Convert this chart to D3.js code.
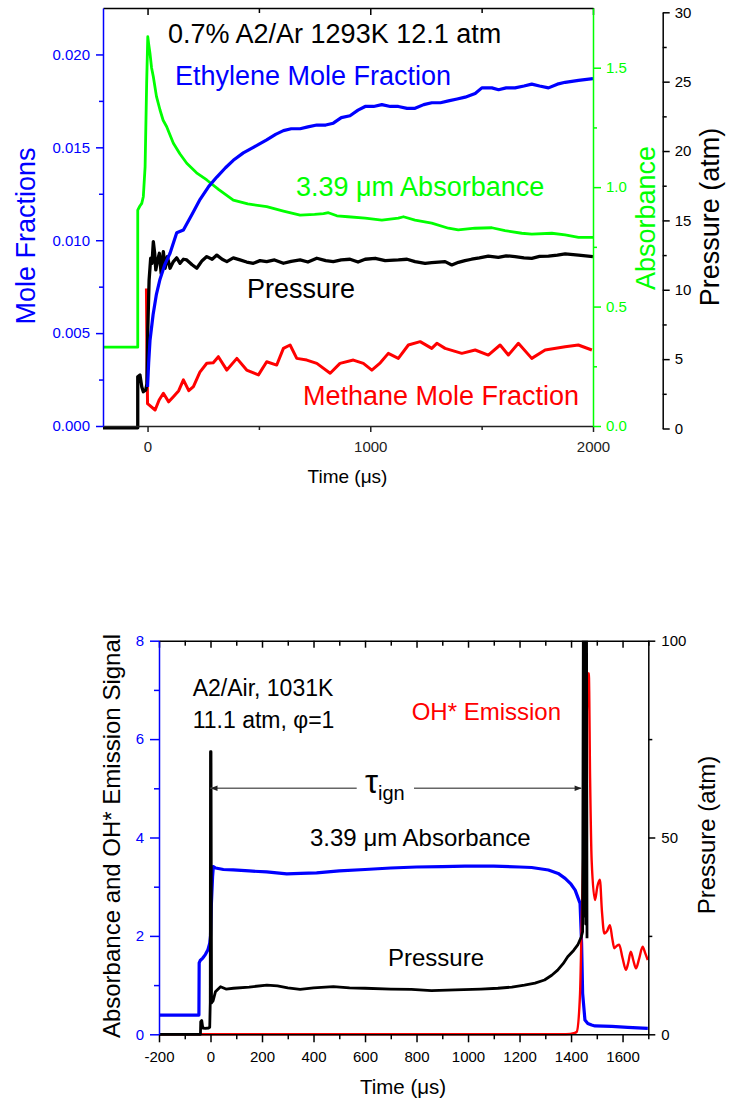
<!DOCTYPE html>
<html>
<head>
<meta charset="utf-8">
<script src="https://cdn.jsdelivr.net/npm/d3@7"></script>
<style>
  body { margin: 0; background: #fff; }
  text { font-family: 'Liberation Sans', Arial, sans-serif; }
</style>
</head>
<body>
<div id="chart"></div>
<script>
// ---- top panel: 0.7% A2/Ar 1293K 12.1 atm ----
const topTimeTicks = [0, 1000, 2000];
const topTimeMinor = [500, 1500];
const moleTicks = [0, 0.005, 0.010, 0.015, 0.020];
const moleMinor = [0.0025, 0.0075, 0.0125, 0.0175];
const absTicks = [0, 0.5, 1.0, 1.5];
const absMinor = [0.25, 0.75, 1.25];
const pressTicks = [0, 5, 10, 15, 20, 25, 30];
const pressMinor = [2.5, 7.5, 12.5, 17.5, 22.5, 27.5];

// [time us, mole fraction]
const topEthylene = [
  [0, 0.0021], [5, 0.0034], [11, 0.0046], [25, 0.0060], [40, 0.0071], [56, 0.0079], [78, 0.0087],
  [101, 0.0093], [131, 0.0104], [161, 0.01055], [200, 0.0114], [236, 0.0122], [275, 0.0129],
  [311, 0.0134], [350, 0.0139], [385, 0.0143], [430, 0.0147], [475, 0.0150], [505, 0.0152],
  [535, 0.0154], [575, 0.0157], [610, 0.0159], [645, 0.0160], [685, 0.0160], [720, 0.0161],
  [760, 0.0162], [800, 0.0162], [834, 0.0163], [870, 0.0166], [909, 0.0167], [945, 0.0170],
  [977, 0.0172], [1015, 0.0172], [1052, 0.0173], [1090, 0.0172], [1126, 0.0172], [1165, 0.0171],
  [1201, 0.0171], [1240, 0.0173], [1276, 0.0174], [1315, 0.0174], [1351, 0.0175], [1390, 0.0176],
  [1426, 0.0177], [1471, 0.0179], [1501, 0.0182], [1546, 0.0182], [1576, 0.0181], [1610, 0.0182],
  [1650, 0.0182], [1690, 0.0183], [1725, 0.0184], [1760, 0.0183], [1800, 0.0182], [1840, 0.0184],
  [1875, 0.0185], [1935, 0.0186], [2000, 0.0187]
];
// [time us, absorbance]
const topAbsorbance = [
  [-200, 0.33], [-44, 0.33], [-44, 0.904], [-35, 0.92], [-26, 0.932], [-19, 0.96], [-11, 1.085],
  [-4, 1.435], [1, 1.63], [5, 1.60], [11, 1.56], [18, 1.50], [26, 1.462], [40, 1.38], [56, 1.323],
  [70, 1.28], [86, 1.253], [100, 1.22], [116, 1.184], [145, 1.14], [176, 1.10], [220, 1.06],
  [266, 1.03], [320, 0.99], [385, 0.946], [450, 0.93], [535, 0.918], [610, 0.90], [685, 0.883],
  [750, 0.886], [790, 0.889], [812, 0.893], [850, 0.880], [900, 0.876], [977, 0.87], [1052, 0.862],
  [1126, 0.87], [1149, 0.876], [1201, 0.862], [1276, 0.849], [1351, 0.828], [1395, 0.821],
  [1470, 0.828], [1546, 0.83], [1605, 0.818], [1680, 0.807], [1725, 0.803], [1815, 0.807],
  [1875, 0.80], [1935, 0.79], [2000, 0.79]
];
// [time us, pressure atm]
const topPressure = [
  [-200, 0.05], [-44, 0.05], [-44, 3.73], [-34, 3.86], [-26, 3.01], [-19, 2.65], [-8, 2.78],
  [-3, 3.2], [1, 7.1], [7, 10.7], [14, 12.27], [20, 11.9], [26, 13.47], [32, 12.63], [37, 11.43],
  [44, 12.03], [53, 12.63], [61, 11.19], [71, 12.75], [79, 11.55], [89, 12.39], [101, 11.55],
  [116, 12.03], [131, 12.3], [146, 11.91], [161, 12.2], [176, 12.15], [200, 11.8], [221, 11.55],
  [245, 12.1], [266, 12.39], [290, 12.2], [311, 12.5], [335, 12.2], [356, 12.03], [385, 12.3],
  [415, 12.15], [445, 12.0], [475, 11.91], [505, 12.1], [535, 12.03], [570, 12.15], [610, 11.91],
  [645, 12.05], [685, 12.15], [720, 12.0], [760, 12.27], [800, 12.1], [834, 12.03], [870, 12.15],
  [909, 12.2], [945, 12.0], [977, 12.2], [1022, 12.27], [1067, 12.1], [1126, 12.15], [1165, 12.2],
  [1201, 12.03], [1246, 11.9], [1276, 11.95], [1336, 12.03], [1366, 11.79], [1396, 11.98],
  [1425, 12.1], [1455, 12.2], [1490, 12.3], [1530, 12.43], [1575, 12.34], [1610, 12.45],
  [1650, 12.39], [1690, 12.3], [1725, 12.27], [1760, 12.4], [1800, 12.43], [1840, 12.5],
  [1875, 12.58], [1935, 12.5], [2000, 12.39]
];
// [time us, mole fraction]
const topMethane = [
  [-5, 0.0074], [-3, 0.0045], [0, 0.0012], [34, 0.00086], [52, 0.0014], [71, 0.00176], [95, 0.0013],
  [116, 0.00158], [140, 0.0019], [161, 0.00248], [185, 0.0019], [206, 0.00212], [235, 0.0029],
  [266, 0.00338], [295, 0.0034], [318, 0.00373], [356, 0.00301], [401, 0.00364], [445, 0.00301],
  [498, 0.00275], [535, 0.00346], [580, 0.00328], [610, 0.00418], [640, 0.00436], [670, 0.00364],
  [715, 0.00355], [760, 0.00337], [820, 0.00284], [864, 0.00337], [924, 0.00355], [969, 0.00337],
  [1007, 0.00301], [1045, 0.0034], [1081, 0.00391], [1126, 0.00364], [1171, 0.00436],
  [1224, 0.00454], [1276, 0.00418], [1299, 0.00445], [1336, 0.00418], [1411, 0.00391],
  [1471, 0.00409], [1530, 0.00382], [1583, 0.00436], [1620, 0.00382], [1665, 0.00445],
  [1725, 0.00364], [1785, 0.00409], [1875, 0.00427], [1934, 0.00436], [1995, 0.00409]
];

// ---- bottom panel: A2/Air, 1031K, 11.1 atm ----
const botTimeTicks = [-200, 0, 200, 400, 600, 800, 1000, 1200, 1400, 1600];
const botTimeMinor = [-100, 100, 300, 500, 700, 900, 1100, 1300, 1500, 1700];
const signalTicks = [0, 2, 4, 6, 8];
const signalMinor = [1, 3, 5, 7];
const botPressTicks = [0, 50, 100];
const botPressMinor = [25, 75];
const ignitionMarks = [0, 1445];   // tau_ign start / end, us
const ignitionArrowLevel = 5;      // signal units

// [time us, absorbance]
const botAbsorbance = [
  [-200, 0.39], [-45, 0.39], [-44, 1.45], [-40, 1.50], [-30, 1.55], [-20, 1.62], [-10, 1.72],
  [-3, 1.85], [0, 2.0], [3, 2.6], [8, 3.2], [11, 3.41], [20, 3.38], [50, 3.35], [88, 3.34],
  [150, 3.32], [218, 3.30], [296, 3.26], [350, 3.27], [412, 3.28], [500, 3.32], [600, 3.35],
  [700, 3.38], [800, 3.40], [900, 3.41], [988, 3.42], [1100, 3.42], [1200, 3.40], [1247, 3.39],
  [1312, 3.34], [1350, 3.27], [1377, 3.17], [1400, 3.05], [1416, 2.93], [1435, 2.66],
  [1441, 1.85], [1445, 0.83], [1454, 0.29], [1465, 0.22], [1480, 0.19], [1493, 0.17],
  [1558, 0.16], [1620, 0.14], [1698, 0.12]
];
// [time us, pressure atm]
const botPressure = [
  [-200, 0], [-39, 0], [-38, 3.2], [-34, 3.5], [-30, 1.6], [-20, 1.5], [-8, 1.6], [-3, 1.8],
  [-1, 8], [0, 71.8], [2, 71.8], [4, 8], [10, 8.5], [19, 10.8], [39, 12.1], [60, 11.5], [89, 11.7],
  [150, 12.0], [219, 12.5], [260, 12.3], [300, 11.8], [348, 11.4], [400, 11.8], [477, 12.1],
  [540, 11.8], [600, 11.7], [700, 11.5], [780, 11.4], [858, 11.1], [950, 11.3], [1050, 11.5],
  [1116, 11.7], [1170, 12.0], [1219, 12.5], [1260, 13.0], [1297, 13.8], [1325, 15.0],
  [1348, 16.3], [1370, 18.0], [1387, 19.7], [1410, 21.3], [1426, 22.7], [1440, 24.8],
  [1445, 26.1], [1448, 110], [1451, 30], [1454, 110], [1457, 28], [1460, 110], [1462, 24.4]
];
// [time us, OH* emission signal]
const botOH = [
  [-200, 0], [1380, 0], [1415, 0.03], [1422, 0.05], [1435, 0.83], [1441, 2.19], [1447, 3.54],
  [1458, 6.0], [1466, 7.2], [1469, 7.34], [1474, 5.2], [1480, 3.54], [1493, 2.73], [1502, 3.0],
  [1512, 3.14], [1520, 2.5], [1529, 2.05], [1540, 2.1], [1551, 2.22], [1560, 1.95], [1568, 1.75],
  [1578, 1.8], [1587, 1.82], [1600, 1.55], [1613, 1.31], [1622, 1.45], [1632, 1.68], [1642, 1.5],
  [1652, 1.34], [1665, 1.55], [1678, 1.78], [1688, 1.65], [1698, 1.51]
];

(function () {
  let width = 730,
    height = 1104;

  let font = "'Liberation Sans', Arial, sans-serif";
  let blue = '#0000ff', green = '#00ff00', red = '#ff0000', black = '#000000';

  let svg = d3.select('#chart').append('svg')
    .attr('width', width)
    .attr('height', height);

  svg.append('rect').attr('width', width).attr('height', height).attr('fill', '#fff');

  // draws an axis with major (labelled) and minor ticks
  function axis(g, kind, scale, major, minor, majLen, minLen, pad, color, fmt) {
    let maj = kind(scale).tickValues(major).tickSize(majLen).tickSizeOuter(0).tickPadding(pad);
    if (fmt) maj.tickFormat(fmt); else maj.tickFormat('');
    g.call(maj);
    let m = g.append('g').call(kind(scale).tickValues(minor).tickSize(minLen).tickSizeOuter(0).tickFormat(''));
    m.select('.domain').remove();
    g.attr('font-family', font).attr('font-size', 15);
    g.selectAll('.domain').attr('stroke', color).attr('stroke-width', 1.5);
    g.selectAll('.tick line').attr('stroke', color).attr('stroke-width', 1.5);
    g.selectAll('.tick text').attr('fill', color);
    return g;
  }

  function vlabel(x, y, txt, color, size) {
    svg.append('text')
      .attr('transform', 'translate(' + x + ',' + y + ') rotate(-90)')
      .attr('text-anchor', 'middle')
      .attr('fill', color)
      .style('font-size', size + 'px')
      .text(txt);
  }

  function label(x, y, txt, color, size) {
    return svg.append('text')
      .attr('x', x).attr('y', y)
      .attr('fill', color)
      .style('font-size', size + 'px')
      .text(txt);
  }

  // ================= top panel =================
  let T = { left: 103, right: 593, top: 8, bottom: 426 };

  let xTop = d3.scaleLinear().domain([-200, 2000]).range([T.left, T.right]);
  let yMole = d3.scaleLinear().domain([0, 0.0225]).range([T.bottom, T.top]);
  let yAbs = d3.scaleLinear().domain([0, 1.75]).range([T.bottom, T.top]);
  let yPress = d3.scaleLinear().domain([0, 30]).range([428.5, 12.3]);

  svg.append('clipPath').attr('id', 'clipTop').append('rect')
    .attr('x', T.left).attr('y', T.top).attr('width', T.right - T.left).attr('height', T.bottom - T.top + 4);

  let topSeries = svg.append('g').attr('clip-path', 'url(#clipTop)');

  let lineAbs = d3.line().x((d) => xTop(d[0])).y((d) => yAbs(d[1]));
  let lineMole = d3.line().x((d) => xTop(d[0])).y((d) => yMole(d[1]));
  let linePress = d3.line().x((d) => xTop(d[0])).y((d) => yPress(d[1]));

  topSeries.append('path').datum(topAbsorbance).attr('d', lineAbs)
    .attr('fill', 'none').attr('stroke', green).attr('stroke-width', 2.8).attr('stroke-linejoin', 'round');
  topSeries.append('path').datum(topMethane).attr('d', lineMole)
    .attr('fill', 'none').attr('stroke', red).attr('stroke-width', 3).attr('stroke-linejoin', 'round');
  topSeries.append('path').datum(topPressure).attr('d', linePress)
    .attr('fill', 'none').attr('stroke', black).attr('stroke-width', 3.3).attr('stroke-linejoin', 'round');
  topSeries.append('path').datum(topEthylene).attr('d', lineMole)
    .attr('fill', 'none').attr('stroke', blue).attr('stroke-width', 3.2).attr('stroke-linejoin', 'round');

  // top border with inward ticks
  axis(svg.append('g').attr('transform', 'translate(0,' + T.top + ')'),
    d3.axisBottom, xTop, topTimeTicks, topTimeMinor, 7, 5, 0, black, null);
  // time axis
  axis(svg.append('g').attr('transform', 'translate(0,' + T.bottom + ')'),
    d3.axisBottom, xTop, topTimeTicks, topTimeMinor, 6, 4, 9, '#222', (d) => String(d));
  // mole fraction axis
  axis(svg.append('g').attr('transform', 'translate(' + T.left + ',0)'),
    d3.axisLeft, yMole, moleTicks, moleMinor, 7, 4, 6, blue, d3.format('.3f'));
  // absorbance axis
  axis(svg.append('g').attr('transform', 'translate(' + T.right + ',0)'),
    d3.axisRight, yAbs, absTicks, absMinor, 8, 4, 5, green, d3.format('.1f'));
  // pressure axis
  axis(svg.append('g').attr('transform', 'translate(662.7,0)'),
    d3.axisRight, yPress, pressTicks, pressMinor, 7, 4, 5, black, (d) => String(d));

  vlabel(35, 236, 'Mole Fractions', blue, 27);
  vlabel(655, 218, 'Absorbance', green, 27);
  vlabel(719, 217, 'Pressure (atm)', black, 27);
  label(347.5, 483, 'Time (\u03bcs)', black, 19).attr('text-anchor', 'middle');

  label(168, 43, '0.7% A2/Ar 1293K 12.1 atm', black, 27);
  label(175, 85, 'Ethylene Mole Fraction', blue, 27);
  label(296, 196, '3.39 \u03bcm Absorbance', green, 27);
  label(247, 298, 'Pressure', black, 27);
  label(303, 405, 'Methane Mole Fraction', red, 27);

  // ================= bottom panel =================
  let B = { left: 159, right: 648.3, top: 640.7, bottom: 1034.3 };

  let xBot = d3.scaleLinear().domain([-200, 1700]).range([B.left, B.right]);
  let ySig = d3.scaleLinear().domain([0, 8]).range([B.bottom, B.top]);
  let yBP = d3.scaleLinear().domain([0, 100]).range([B.bottom, B.top]);

  svg.append('clipPath').attr('id', 'clipBot').append('rect')
    .attr('x', B.left).attr('y', B.top).attr('width', B.right - B.left).attr('height', B.bottom - B.top + 2);

  let botSeries = svg.append('g').attr('clip-path', 'url(#clipBot)');

  let lineSig = d3.line().x((d) => xBot(d[0])).y((d) => ySig(d[1]));
  let lineOH = d3.line().x((d) => xBot(d[0])).y((d) => ySig(d[1])).curve(d3.curveMonotoneX);
  let lineBP = d3.line().x((d) => xBot(d[0])).y((d) => yBP(d[1]));

  botSeries.append('path').datum(botAbsorbance).attr('d', lineSig)
    .attr('fill', 'none').attr('stroke', blue).attr('stroke-width', 3.2).attr('stroke-linejoin', 'round');
  botSeries.append('path').datum(botOH).attr('d', lineOH)
    .attr('fill', 'none').attr('stroke', red).attr('stroke-width', 2.4).attr('stroke-linejoin', 'round');
  botSeries.append('path').datum(botPressure).attr('d', lineBP)
    .attr('fill', 'none').attr('stroke', black).attr('stroke-width', 2.8).attr('stroke-linejoin', 'round');

  axis(svg.append('g').attr('transform', 'translate(0,' + B.top + ')'),
    d3.axisBottom, xBot, botTimeTicks, botTimeMinor, 7, 5, 0, black, null);
  axis(svg.append('g').attr('transform', 'translate(0,' + B.bottom + ')'),
    d3.axisBottom, xBot, botTimeTicks, botTimeMinor, 8, 5, 9, black, (d) => String(d));
  axis(svg.append('g').attr('transform', 'translate(' + B.left + ',0)'),
    d3.axisLeft, ySig, signalTicks, signalMinor, 9, 5, 6, blue, (d) => String(d));
  axis(svg.append('g').attr('transform', 'translate(' + B.right + ',0)'),
    d3.axisRight, yBP, botPressTicks, botPressMinor, 7, 4, 6, black, (d) => String(d));

  vlabel(120, 836, 'Absorbance and OH* Emission Signal', black, 24);
  vlabel(715, 835, 'Pressure (atm)', black, 24);
  label(403, 1094, 'Time (\u03bcs)', black, 20.5).attr('text-anchor', 'middle');

  label(192.7, 696, 'A2/Air, 1031K', black, 23);
  label(192.7, 728, '11.1 atm, \u03c6=1', black, 23);
  label(411.7, 720, 'OH* Emission', red, 24);
  label(310, 846, '3.39 \u03bcm Absorbance', black, 24);
  label(388, 966, 'Pressure', black, 24);

  // ignition delay arrows
  let defs = svg.append('defs');
  defs.append('marker').attr('id', 'arrow')
    .attr('viewBox', '0 0 10 10').attr('refX', 10).attr('refY', 5)
    .attr('markerWidth', 9).attr('markerHeight', 7).attr('markerUnits', 'userSpaceOnUse')
    .attr('orient', 'auto')
    .append('path').attr('d', 'M0,1 L10,5 L0,9 Z').attr('fill', '#222');

  let ay = ySig(ignitionArrowLevel);
  svg.append('line')
    .attr('x1', 356.7).attr('x2', xBot(ignitionMarks[0]))
    .attr('y1', ay).attr('y2', ay)
    .attr('stroke', '#666').attr('stroke-width', 1.5).attr('marker-end', 'url(#arrow)');
  svg.append('line')
    .attr('x1', 414).attr('x2', xBot(ignitionMarks[1]) - 1)
    .attr('y1', ay).attr('y2', ay)
    .attr('stroke', '#666').attr('stroke-width', 1.5).attr('marker-end', 'url(#arrow)');

  let tau = svg.append('text').attr('x', 365).attr('y', 793).attr('fill', black);
  tau.append('tspan').style('font-size', '33px').text('\u03c4');
  tau.append('tspan').attr('dy', 7).style('font-size', '20px').text('ign');
})();
</script>
</body>
</html>
